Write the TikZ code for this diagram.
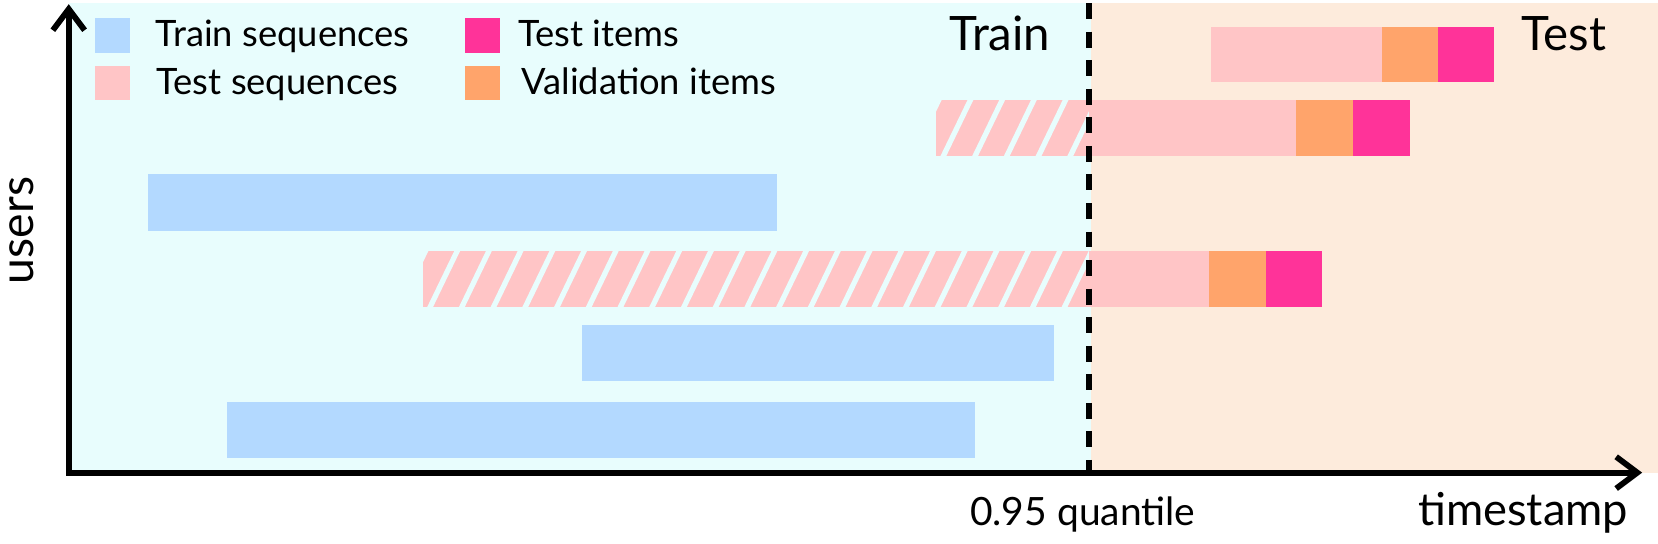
\documentclass[tikz,border=0pt]{standalone}
\usepackage{fontspec}
\setmainfont{Lato}
\usetikzlibrary{arrows.meta}
\definecolor{bgtrain}{RGB}{232,253,253}
\definecolor{bgtest}{RGB}{253,235,220}
\definecolor{trainblue}{RGB}{179,217,255}
\definecolor{testpink}{RGB}{255,197,198}
\definecolor{valorange}{RGB}{255,164,107}
\definecolor{testmag}{RGB}{255,51,153}
\begin{document}
\begin{tikzpicture}[x=1bp,y=-1bp,
  legsq/.style={minimum size=33bp,inner sep=0pt,outer sep=0pt},
  legtxt/.style={anchor=base west,inner sep=0pt,font=\fontsize{34.5}{40}\selectfont},
  bigtxt/.style={inner sep=0pt,font=\fontsize{45}{52}\selectfont},
  axis/.style={line width=5.5bp,line join=miter,{Straight Barb[length=20bp,width=30bp]}-{Straight Barb[length=20bp,width=30bp]}},
  hatchline/.style={bgtrain,line width=5bp}]
\useasboundingbox (0,0) rectangle (1568,514);
% backgrounds
\fill[bgtrain] (65,3) rectangle (1032,447);
\fill[bgtest] (1032,3) rectangle (1568,447);
% row 1
\fill[testpink] (1145,26) rectangle (1307,78);
\fill[valorange] (1307,26) rectangle (1360,78);
\fill[testmag] (1360,26) rectangle (1413,78);
% row 2
\begin{scope}
  \clip (885,95) rectangle (1030,148);
  \fill[testpink] (885,95) rectangle (1030,148);
  \foreach \x in {860,890,...,1040} \draw[hatchline] (\x,152) -- ++(29,-60);
\end{scope}
\fill[testpink] (1030,95) rectangle (1226,148);
\fill[valorange] (1226,95) rectangle (1280,148);
\fill[testmag] (1280,95) rectangle (1333,148);
% row 3
\fill[trainblue] (140,165) rectangle (735,218);
% row 4
\begin{scope}
  \clip (400,237) rectangle (1030,290);
  \fill[testpink] (400,237) rectangle (1030,290);
  \foreach \x in {375,405,...,1040} \draw[hatchline] (\x,294) -- ++(29,-60);
\end{scope}
\fill[testpink] (1030,237) rectangle (1143,290);
\fill[valorange] (1143,237) rectangle (1197,290);
\fill[testmag] (1197,237) rectangle (1250,290);
% row 5, 6
\fill[trainblue] (550,307) rectangle (997,360);
\fill[trainblue] (215,380) rectangle (922,433);
% quantile line
\coordinate (qtop) at (1030,3);
\coordinate (qbot) at (1030,447);
\draw[line width=5bp,dash pattern=on 15bp off 12bp] (qtop) -- (qbot);
% axes
\coordinate (ytip) at (65,4);
\coordinate (origin) at (65,447);
\coordinate (xtip) at (1553,447);
\draw[axis] (ytip) -- (origin) -- (xtip);
% legend
\node[legsq,fill=trainblue] (sqtrain) at (106.5,33.5) {};
\node[legsq,fill=testpink] (sqtestseq) at (106.5,78.5) {};
\node[legsq,fill=testmag] (sqtestit) at (456.5,33.5) {};
\node[legsq,fill=valorange] (sqval) at (456.5,78.5) {};
\node[legtxt] (ltrain) at (147,44) {Train sequences};
\node[legtxt] (ltestseq) at (148,89) {Test sequences};
\node[legtxt] (ltestit) at (490,44) {Test items};
\node[legtxt] (lval) at (493,89) {Validation items};
% labels
\node[bigtxt,anchor=base] (train) at (945.5,48) {Train};
\node[bigtxt,anchor=base] (test) at (1479,48) {Test};
\node[inner sep=0pt,anchor=base east,font=\fontsize{43}{50}\selectfont] (ts) at (1540,497) {timestamp};
\node[inner sep=0pt,anchor=base,font=\fontsize{37}{44}\selectfont] (q) at (1024,497) {0.95 quantile};
\node[inner sep=0pt,anchor=base,rotate=90,font=\fontsize{44}{50}\selectfont] (users) at (32,218) {users};
\end{tikzpicture}
\end{document}
